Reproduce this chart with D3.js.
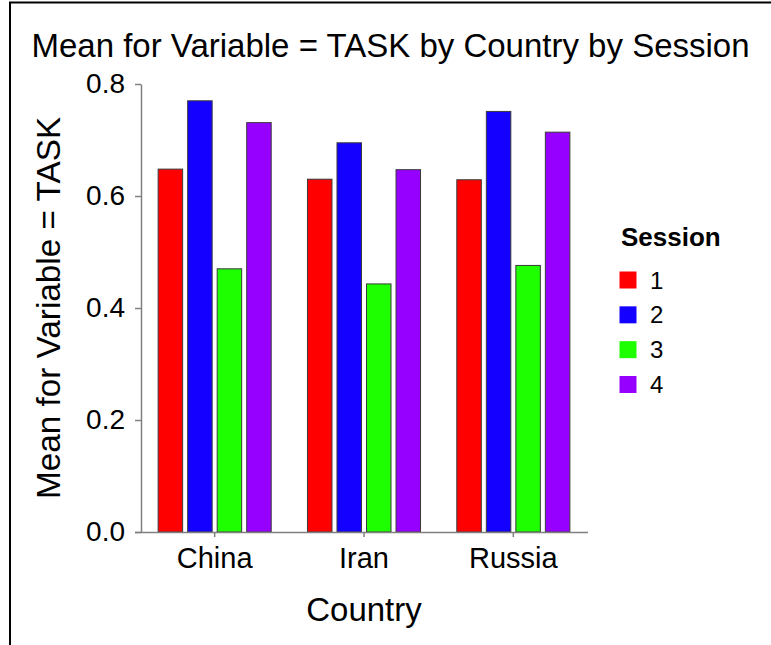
<!DOCTYPE html>
<html>
<head>
<meta charset="utf-8">
<script src="https://cdn.jsdelivr.net/npm/d3@7/dist/d3.min.js"></script>
<style>
  html, body { margin: 0; padding: 0; background: #fff; }
  svg { display: block; font-family: "Liberation Sans", Arial, Helvetica, sans-serif; }
</style>
</head>
<body>
<svg id="chart" width="771" height="645"></svg>
<script>
const countries = ["China", "Iran", "Russia"];
const sessions = ["1", "2", "3", "4"];
const session1 = [0.648, 0.630, 0.629];
const session2 = [0.770, 0.695, 0.751];
const session3 = [0.470, 0.443, 0.476];
const session4 = [0.731, 0.647, 0.714];
const sessionColors = ["#FF0000", "#1400FF", "#1EFF00", "#9600FF"];
const yTicks = [0, 0.2, 0.4, 0.6, 0.8];
const titleText = "Mean for Variable = TASK by Country by Session";
const yTitle = "Mean for Variable = TASK";
const xTitle = "Country";
const legendTitle = "Session";

const seriesValues = [session1, session2, session3, session4];
const rows = [];
countries.forEach((c, ci) => {
  sessions.forEach((s, si) => {
    rows.push({ country: c, session: s, value: seriesValues[si][ci] });
  });
});

const svg = d3.select("#chart");
const axisColor = "#808080";

// frame
svg.append("rect")
  .attr("x", 10).attr("y", 2.5)
  .attr("width", 800).attr("height", 700)
  .attr("fill", "none").attr("stroke", "#000").attr("stroke-width", 2);

const y = d3.scaleLinear().domain([0, 0.8]).range([532, 84]);
const x0 = d3.scaleBand().domain(countries).range([140, 588])
  .paddingInner(0.243).paddingOuter(0.1215);
const x1 = d3.scaleBand().domain(sessions).range([0, x0.bandwidth()])
  .paddingInner(0.17).paddingOuter(0);
const color = d3.scaleOrdinal().domain(sessions).range(sessionColors);

// title
svg.append("text")
  .attr("x", 390.5).attr("y", 57)
  .attr("text-anchor", "middle")
  .attr("font-size", 33)
  .attr("fill", "#000")
  .text(titleText);

// bars
svg.append("g").selectAll("rect")
  .data(rows)
  .join("rect")
  .attr("x", d => x0(d.country) + x1(d.session))
  .attr("y", d => y(d.value))
  .attr("width", x1.bandwidth())
  .attr("height", d => y(0) - y(d.value))
  .attr("fill", d => color(d.session))
  .attr("stroke", "#3a3a3a")
  .attr("stroke-width", 1);

// y axis
const yAxis = svg.append("g")
  .attr("transform", "translate(141,0)")
  .call(d3.axisLeft(y).tickValues(yTicks).tickFormat(d3.format(".1f")).tickSize(6).tickPadding(10).tickSizeOuter(0));
yAxis.select(".domain").attr("stroke", axisColor).attr("stroke-width", 1.5);
yAxis.selectAll(".tick line").attr("stroke", axisColor).attr("stroke-width", 1.5);
yAxis.selectAll(".tick text").attr("font-size", 28).attr("fill", "#000")
  .attr("font-family", "'Liberation Sans', Arial, sans-serif");

// x axis
const xAxis = svg.append("g")
  .attr("transform", "translate(0,532)")
  .call(d3.axisBottom(x0).tickSize(5).tickPadding(10).tickSizeOuter(0));
xAxis.select(".domain").attr("d", "M135,0.5H588").attr("stroke", axisColor).attr("stroke-width", 1.5);
xAxis.selectAll(".tick line").attr("stroke", axisColor).attr("stroke-width", 1.5);
xAxis.selectAll(".tick text").attr("font-size", 29).attr("fill", "#000")
  .attr("font-family", "'Liberation Sans', Arial, sans-serif");

// axis titles
svg.append("text")
  .attr("transform", "translate(59.5,308) rotate(-90)")
  .attr("text-anchor", "middle")
  .attr("font-size", 33.3)
  .attr("fill", "#000")
  .text(yTitle);

svg.append("text")
  .attr("x", 364).attr("y", 621)
  .attr("text-anchor", "middle")
  .attr("font-size", 33)
  .attr("fill", "#000")
  .text(xTitle);

// legend
const legend = svg.append("g");
legend.append("text")
  .attr("x", 621).attr("y", 245.5)
  .attr("font-size", 26).attr("font-weight", "bold")
  .attr("fill", "#000")
  .text(legendTitle);

const ly = d3.scalePoint().domain(sessions).range([280, 384.5]);
const items = legend.selectAll("g.item").data(sessions).join("g").attr("class", "item");
items.append("rect")
  .attr("x", 619.5).attr("y", d => ly(d) - 8.5)
  .attr("width", 17).attr("height", 17)
  .attr("fill", d => color(d));
items.append("text")
  .attr("x", 650).attr("y", d => ly(d) + 8.5)
  .attr("font-size", 24).attr("fill", "#000")
  .text(d => d);
</script>
</body>
</html>
